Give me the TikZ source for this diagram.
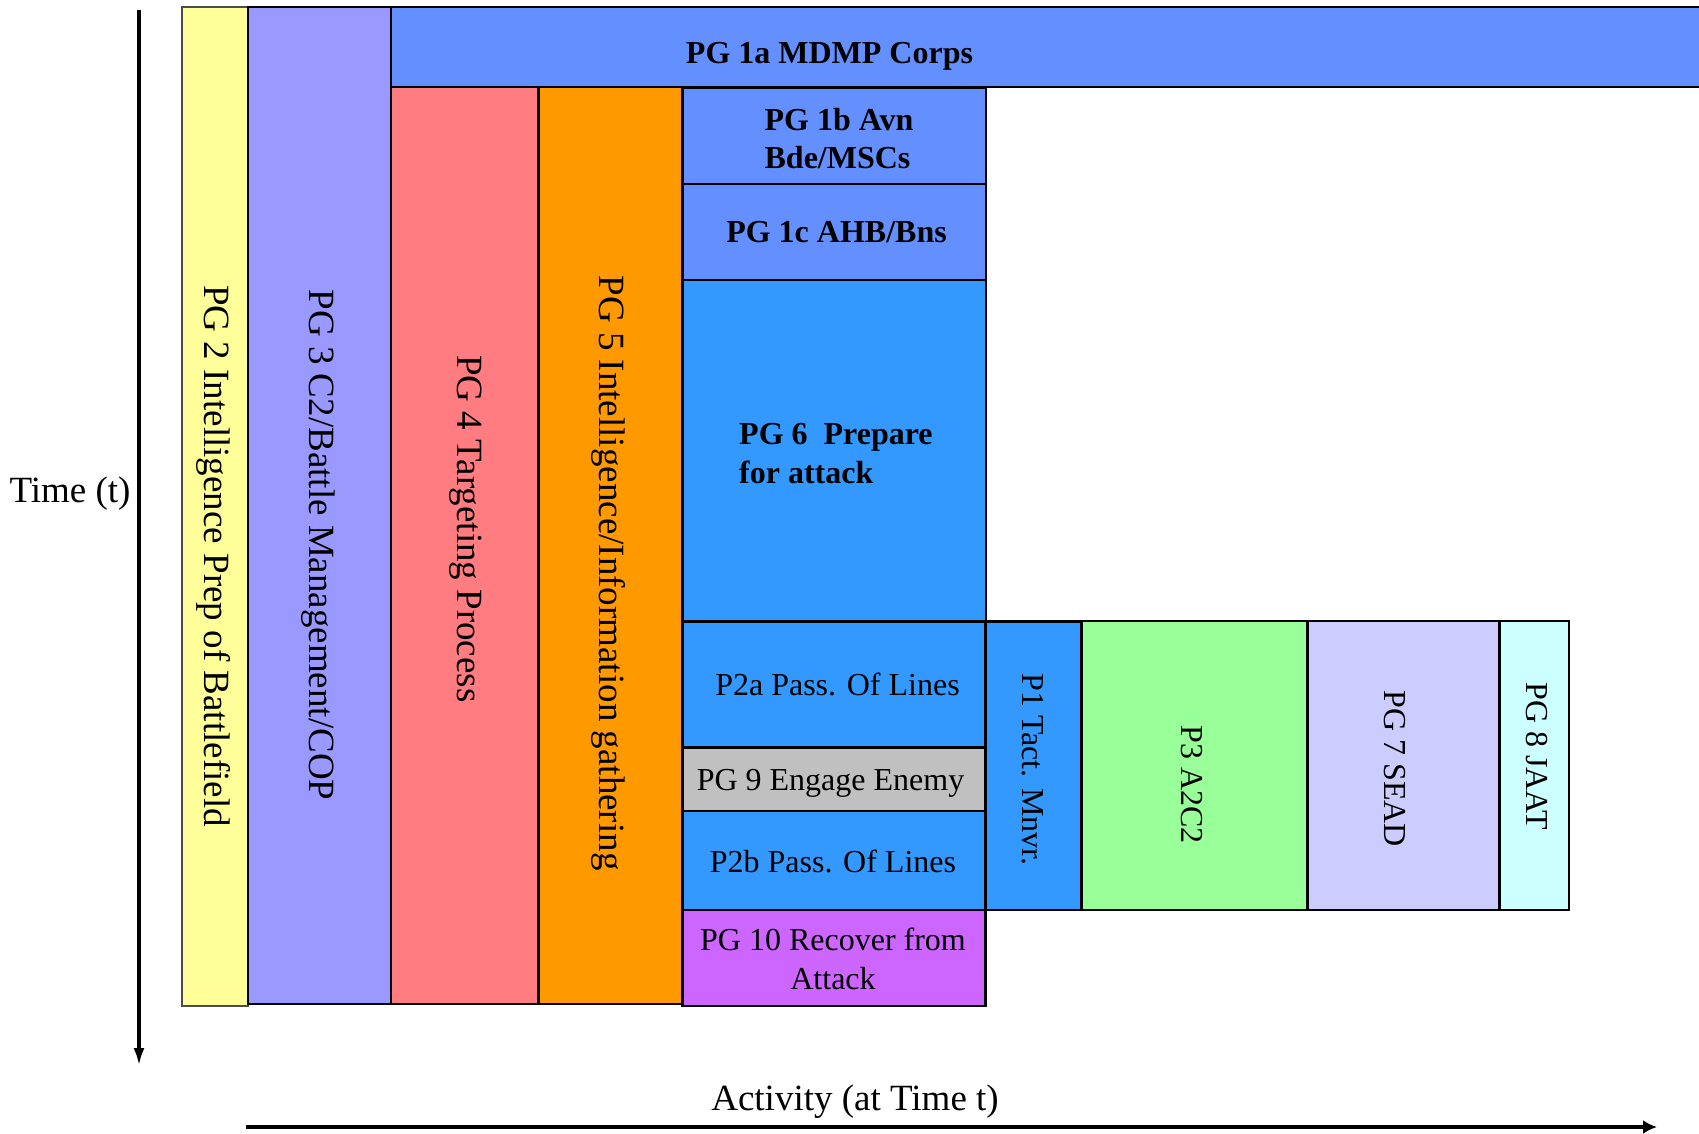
\documentclass[tikz,border=0pt]{standalone}
\usepackage{fontspec}
\setmainfont{Liberation Serif}
\usetikzlibrary{arrows.meta}

\definecolor{cYellow}{HTML}{FFFF99}
\definecolor{cLilac}{HTML}{9999FF}
\definecolor{cCorps}{HTML}{6490FF}
\definecolor{cRed}{HTML}{FF7C80}
\definecolor{cOrange}{HTML}{FF9900}
\definecolor{cBlue}{HTML}{3399FF}
\definecolor{cGray}{HTML}{C0C0C0}
\definecolor{cViolet}{HTML}{CC66FF}
\definecolor{cGreen}{HTML}{99FF99}
\definecolor{cPale}{HTML}{CCCCFF}
\definecolor{cCyan}{HTML}{CCFFFF}

\begin{document}
\begin{tikzpicture}[x=1pt,y=-1pt,
  blk/.style={draw=black, line width=2.5pt, inner sep=0pt, outer sep=0pt, anchor=north west},
  vtxt/.style={rotate=-90, font=\fontsize{37}{40}\selectfont, inner sep=0pt},
  vsmall/.style={rotate=-90, font=\fontsize{32}{38}\selectfont, inner sep=0pt},
  htxt/.style={font=\fontsize{32}{39}\selectfont, align=center, inner sep=0pt},
  btxt/.style={font=\bfseries\fontsize{32}{38}\selectfont, align=left, inner sep=0pt},
  axtxt/.style={font=\fontsize{37}{40}\selectfont, inner sep=0pt},
  axis/.style={draw=black, line width=4pt}]
\useasboundingbox (0,0) rectangle (1699,1134);

% left-hand columns
\node[blk, fill=cYellow, draw=black!70, line width=1.5pt, minimum width=66pt, minimum height=999pt] (pg2) at (182,7) {};
\node[blk, fill=cLilac, minimum width=143pt, minimum height=997pt] (pg3) at (248,7) {};
\node[blk, fill=cCorps, minimum width=1340pt, minimum height=80pt] (pg1a) at (391,7) {};
\node[blk, fill=cRed, minimum width=147.5pt, minimum height=917pt] (pg4) at (391,87) {};
\node[blk, fill=cOrange, minimum width=144pt, minimum height=917pt] (pg5) at (538.5,87) {};

% central stack
\node[blk, fill=cCorps, line width=2pt, minimum width=303pt, minimum height=96pt] (pg1b) at (682.5,88) {};
\node[blk, fill=cCorps, line width=2pt, minimum width=303pt, minimum height=95.5pt] (pg1c) at (682.5,184) {};
\node[blk, fill=cBlue, line width=2pt, minimum width=303pt, minimum height=342.2pt] (pg6) at (682.5,279.5) {};
\node[blk, fill=cBlue, minimum width=303pt, minimum height=126pt] (p2a) at (682.5,621.7) {};
\node[blk, fill=cGray, minimum width=303pt, minimum height=63.3pt] (pg9) at (682.5,747.7) {};
\node[blk, fill=cBlue, minimum width=303pt, minimum height=99pt] (p2b) at (682.5,811) {};
\node[blk, fill=cViolet, minimum width=303pt, minimum height=96pt] (pg10) at (682.5,910) {};

% right-hand row
\node[blk, fill=cBlue, minimum width=96pt, minimum height=288.3pt] (p1) at (985.5,621.7) {};
\node[blk, fill=cGreen, minimum width=226pt, minimum height=289pt] (p3) at (1081.5,621) {};
\node[blk, fill=cPale, minimum width=191.8pt, minimum height=289pt] (pg7) at (1307.5,621) {};
\node[blk, fill=cCyan, minimum width=69.7pt, minimum height=289pt] (pg8) at (1499.3,621) {};

% labels
\node[vtxt] (l2) at (214,556) {PG 2 Intelligence Prep of Battlefield};
\node[vtxt] (l3) at (318,545) {PG 3 C2/Battle Management/COP};
\node[vtxt] (l4) at (466,529) {PG 4 Targeting Process};
\node[vtxt] (l5) at (609,573) {PG 5 Intelligence/Information gathering};

\node[btxt] (l1a) at (829.5,56) {PG 1a MDMP Corps};
\node[btxt] (l1b) at (839,139) {PG 1b Avn\\Bde/MSCs};
\node[btxt] (l1c) at (836.5,232) {PG 1c AHB/Bns};
\node[btxt, font=\bfseries\fontsize{32}{39}\selectfont, anchor=west] (l6) at (739,454) {PG 6~~Prepare\\for attack};

\node[htxt] (lp2a) at (837.5,684) {P2a Pass. Of Lines};
\node[htxt] (l9) at (830.5,783) {PG 9 Engage Enemy};
\node[htxt] (lp2b) at (833,861) {P2b Pass. Of Lines};
\node[htxt] (l10) at (833,959) {PG 10 Recover from\\Attack};

\node[vsmall] (lp1) at (1032.6,769.5) {P1 Tact. Mnvr.};
\node[vsmall] (lp3) at (1192,784.5) {P3 A2C2};
\node[vsmall] (l7) at (1394.5,768.7) {PG 7 SEAD};
\node[vsmall] (l8) at (1536.5,756) {PG 8 JAAT};

% axes
\coordinate (tTop) at (139,10);
\coordinate (tEnd) at (139,1066);
\draw[axis, -{Latex[length=18pt,width=11pt]}] (tTop) -- (tEnd);
\node[axtxt] (tLabel) at (70,494) {Time (t)};

\coordinate (aStart) at (246,1127);
\coordinate (aEnd) at (1657,1127);
\draw[axis, line width=4.5pt, -{Latex[length=14pt,width=14pt]}] (aStart) -- (aEnd);
\node[axtxt] (aLabel) at (855,1102) {Activity (at Time t)};
\end{tikzpicture}
\end{document}
